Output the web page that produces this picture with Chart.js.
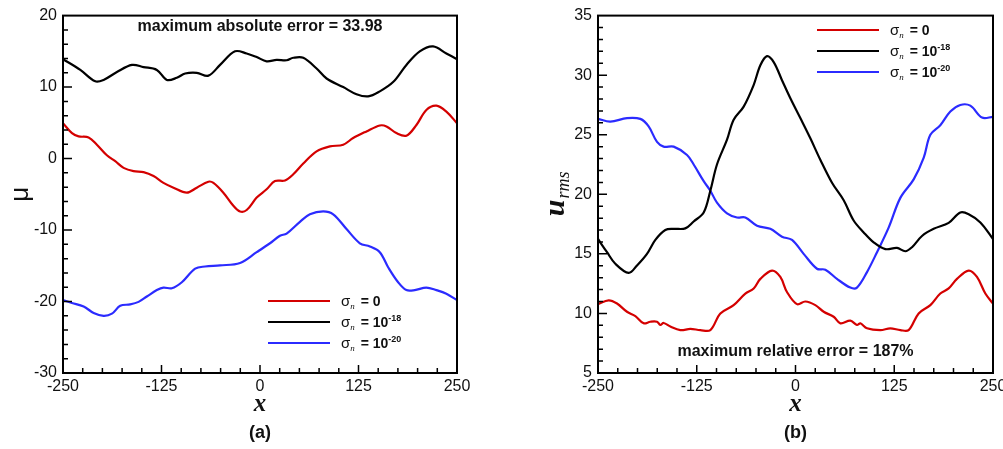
<!DOCTYPE html>
<html>
<head>
<meta charset="utf-8">
<script src="https://cdn.jsdelivr.net/npm/chart.js@4"></script>
<style>
  html, body { margin: 0; padding: 0; background: #fff; overflow: hidden; width: 1003px; height: 449px; }
  canvas { position: absolute; top: 0; }
  #mu-chart  { left: 0; }
  #rms-chart { left: 500px; }
</style>
</head>
<body>
<canvas id="mu-chart" width="500" height="449"></canvas>
<canvas id="rms-chart" width="520" height="449"></canvas>
<script>
// ───────────────────────── DATA ─────────────────────────
const xTicks = [-250, -125, 0, 125, 250];
const muTicks = [-30, -20, -10, 0, 10, 20];
const rmsTicks = [5, 10, 15, 20, 25, 30, 35];

const seriesColors = ["#d40000", "#000000", "#2b2bff"];
const legendBase   = ["0", "10", "10"];
const legendExp    = ["", "-18", "-20"];

// (a) mean μ
const muRedX = [-250, -238.6, -230.2, -217.5, -207, -194.3, -183.7, -173.1, -160.5, -147.8, -135.1, -122.5, -109.8, -92.9, -80.2, -65.5, -59.1, -46.5, -33.8, -25.3, -16.9, -4.2, 8.4, 19, 31.7, 42.2, 54.9, 71.8, 88.7, 105.6, 118.2, 135.1, 152, 160.5, 173.1, 185.8, 198.5, 211.1, 223.8, 236.5, 250];
const muRedY = [4.95, 3.56, 3.1, 2.96, 1.94, 0.46, -0.37, -1.3, -1.76, -1.9, -2.45, -3.4, -4.07, -4.77, -4.07, -3.24, -3.4, -4.77, -6.6, -7.4, -7.2, -5.46, -4.3, -3.15, -3.06, -2.2, -0.7, 1.0, 1.7, 1.94, 2.87, 3.8, 4.63, 4.5, 3.56, 3.2, 4.7, 6.8, 7.4, 6.57, 4.95];

const muBlackX = [-250, -228, -209, -198.5, -181.6, -162.6, -147.8, -130.9, -118.2, -105.6, -95, -80.2, -65.5, -50.7, -31.7, -16.9, -4.2, 8.4, 21.1, 33.8, 42.2, 54.9, 71.8, 84.5, 105.6, 122.5, 137.2, 152, 168.9, 185.8, 202.7, 219.6, 236.5, 250];
const muBlackY = [13.9, 12.4, 10.8, 11.0, 12.1, 13.1, 12.8, 12.4, 11.0, 11.3, 11.9, 12.0, 11.6, 13.1, 15.0, 14.7, 14.2, 13.6, 13.8, 13.75, 14.1, 14.1, 12.6, 11.2, 10.0, 9.0, 8.7, 9.4, 10.7, 13.1, 15.0, 15.7, 14.7, 13.9];

const muBlueX = [-250, -238.6, -223.8, -211.1, -198.5, -187.9, -177.4, -164.7, -154.1, -143.6, -130.9, -122.5, -111.9, -99.2, -82.3, -69.7, -50.7, -25.3, -4.2, 12.7, 25.3, 33.8, 50.7, 63.3, 80.2, 92.9, 109.8, 126.7, 139.4, 152, 162.6, 175.3, 185.8, 196.4, 211.1, 223.8, 236.5, 250];
const muBlueY = [-19.8, -20.2, -20.7, -21.6, -22.0, -21.7, -20.6, -20.4, -20.05, -19.3, -18.4, -18.05, -18.15, -17.3, -15.4, -15.1, -14.95, -14.6, -13.1, -11.85, -10.8, -10.5, -8.85, -7.8, -7.4, -7.8, -9.86, -11.85, -12.3, -13.1, -15.2, -17.3, -18.4, -18.4, -18.05, -18.4, -18.9, -19.8];

// (b) rms u
const rmsRedX = [-250, -236.5, -225.9, -213.3, -202.7, -192.2, -183.8, -175.3, -171.1, -166.9, -158.4, -145.8, -133.1, -120.5, -107.8, -95.1, -78.3, -63.5, -52.9, -44.5, -29.7, -19.2, -10.8, 1.9, 12.4, 25.1, 35.7, 48.3, 56.8, 69.4, 77.8, 82.1, 90.5, 107.4, 120, 132.7, 143.2, 155.9, 170.7, 183.3, 193.9, 204.4, 219.2, 229.7, 240.3, 250];
const rmsRedY = [10.78, 11.1, 10.83, 10.14, 9.78, 9.17, 9.3, 9.3, 9.03, 9.2, 8.9, 8.6, 8.7, 8.6, 8.6, 10.0, 10.7, 11.67, 12.1, 12.9, 13.6, 13.06, 11.8, 10.78, 11.0, 10.7, 10.14, 9.72, 9.17, 9.39, 9.03, 9.17, 8.75, 8.6, 8.75, 8.6, 8.6, 10.0, 10.7, 11.67, 12.1, 12.9, 13.6, 13.06, 11.67, 10.83];

const rmsBlackX = [-250, -238.6, -228.1, -211.2, -200.6, -188, -177.4, -164.8, -154.2, -139.5, -128.9, -116.2, -107.8, -99.4, -86.7, -78.3, -65.6, -53, -44.5, -36.1, -27.6, -17.1, -6.5, 6.1, 18.8, 31.4, 46.2, 61, 73.6, 86.3, 98.9, 113.7, 128.5, 139, 147.5, 160.1, 174.9, 193.9, 208.6, 219.2, 234, 250];
const rmsBlackY = [16.25, 15.14, 14.17, 13.4, 14.03, 15.0, 16.17, 17.0, 17.1, 17.14, 17.72, 18.47, 20.3, 22.5, 24.58, 26.25, 27.36, 29.17, 30.83, 31.6, 31.1, 29.58, 28.06, 26.4, 24.7, 22.9, 20.97, 19.5, 17.8, 16.8, 15.97, 15.4, 15.5, 15.22, 15.56, 16.5, 17.1, 17.6, 18.47, 18.33, 17.64, 16.25];

const rmsBlueX = [-250, -234.4, -213.3, -196.4, -185.9, -175.3, -166.9, -154.2, -137.3, -128.9, -116.2, -107.8, -99.4, -86.7, -74.05, -63.5, -48.7, -31.9, -17.1, -4.4, 10.3, 27.2, 37.8, 52.5, 69.4, 77.8, 90.5, 103.2, 117.9, 132.7, 149.6, 162.2, 170.7, 183.3, 196, 208.6, 221.3, 236.1, 250];
const rmsBlueY = [26.33, 26.1, 26.4, 26.33, 25.7, 24.4, 24.0, 24.0, 23.3, 22.5, 21.1, 20.3, 19.3, 18.4, 18.05, 18.05, 17.36, 17.1, 16.44, 16.17, 15.0, 13.75, 13.67, 12.9, 12.17, 12.17, 13.47, 15.14, 17.2, 19.7, 21.25, 23.05, 25.0, 25.8, 26.95, 27.5, 27.44, 26.44, 26.5];

// ───────────────────────── HELPERS ─────────────────────────
const pts = (xs, ys) => xs.map((x, i) => ({ x, y: ys[i] }));

function makeDatasets(groups) {
    return groups.map((g, i) => ({
        label:       "σn = " + legendBase[i] + (legendExp[i] ? "^" + legendExp[i] : ""),
        data:        pts(g[0], g[1]),
        borderColor: seriesColors[i],
        borderWidth: 2.2,
        pointRadius: 0,
        tension:     0.35,
        fill:        false,
    }));
}

Chart.defaults.font.family = "'Liberation Sans', Arial, sans-serif";
Chart.defaults.color = "#111";

// ───────────────────────── DECORATION PLUGIN (frame, inner ticks, titles, legend) ─────────────────────────
const decor = {
    id: "decor",
    afterDatasetsDraw(chart, args, o) {
        const { ctx, chartArea: a, scales: { x, y } } = chart;
        ctx.save();

        // frame
        ctx.strokeStyle = "#000";
        ctx.lineWidth   = 2;
        ctx.strokeRect(a.left, a.top, a.right - a.left, a.bottom - a.top);

        // inner ticks, bottom + left only
        ctx.lineWidth = 1.5;
        ctx.beginPath();
        for (let v = x.min + o.xMinor; v < x.max - 1e-6; v += o.xMinor) {
            const px  = x.getPixelForValue(v);
            const len = Math.abs((v - x.min) % o.xMajor) < 1e-6 ? 8 : 5;
            ctx.moveTo(px, a.bottom);
            ctx.lineTo(px, a.bottom - len);
        }
        for (let v = y.min + o.yMinor; v < y.max - 1e-6; v += o.yMinor) {
            const py  = y.getPixelForValue(v);
            const len = Math.abs((v - y.min) % o.yMajor) < 1e-6 ? 9 : 5;
            ctx.moveTo(a.left, py);
            ctx.lineTo(a.left + len, py);
        }
        ctx.stroke();

        const cx = (a.left + a.right) / 2;

        // note text
        ctx.fillStyle    = "#111";
        ctx.textAlign    = "center";
        ctx.textBaseline = "middle";
        ctx.font = "bold 16px 'Liberation Sans'";
        ctx.fillText(o.note, cx, o.noteY);

        // x title and caption
        ctx.font = "bold italic 25px 'Liberation Serif'";
        ctx.fillText("x", cx, 405);
        ctx.font = "bold 18px 'Liberation Sans'";
        ctx.fillText(o.caption, cx, 433);

        // y title (rotated)
        ctx.save();
        ctx.translate(o.yTitleX, (a.top + a.bottom) / 2);
        ctx.rotate(-Math.PI / 2);
        ctx.textAlign    = "left";
        ctx.textBaseline = "alphabetic";
        if (o.yTitle === "mu") {
            ctx.font = "26px 'Liberation Sans'";
            const w = ctx.measureText("μ").width;
            ctx.fillText("μ", -w / 2, 6);
        } else {
            ctx.font = "bold italic 30px 'Liberation Serif'";
            const wu = ctx.measureText("u").width;
            ctx.font = "italic 18px 'Liberation Serif'";
            const ws = ctx.measureText("rms").width;
            const x0 = -(wu + ws) / 2;
            ctx.font = "bold italic 30px 'Liberation Serif'";
            ctx.fillText("u", x0, 8);
            ctx.font = "italic 18px 'Liberation Serif'";
            ctx.fillText("rms", x0 + wu + 1, 13);
        }
        ctx.restore();

        // legend
        ctx.textAlign    = "left";
        ctx.textBaseline = "alphabetic";
        chart.data.datasets.forEach((ds, i) => {
            const ly = o.legendY + i * 21;
            ctx.strokeStyle = ds.borderColor;
            ctx.lineWidth   = 2;
            ctx.beginPath();
            ctx.moveTo(o.legendX, ly);
            ctx.lineTo(o.legendX + 62, ly);
            ctx.stroke();

            let tx = o.legendX + 73;
            const base = ly + 5;
            ctx.fillStyle = "#111";
            ctx.font = "15px 'Liberation Sans'";
            ctx.fillText("σ", tx, base);
            tx += ctx.measureText("σ").width;
            ctx.font = "italic 9px 'Liberation Serif'";
            ctx.fillText("n", tx, base + 3);
            tx += ctx.measureText("n").width + 2;
            ctx.font = "bold 14px 'Liberation Sans'";
            const s = " = " + legendBase[i];
            ctx.fillText(s, tx, base);
            tx += ctx.measureText(s).width;
            if (legendExp[i]) {
                ctx.font = "bold 9px 'Liberation Sans'";
                ctx.fillText(legendExp[i], tx, base - 6);
            }
        });

        ctx.restore();
    }
};

// ───────────────────────── CHART FACTORY ─────────────────────────
function makeChart(id, datasets, yMin, yMax, yTicks, yStep, padRight, yWidth, opts) {
    return new Chart(document.getElementById(id), {
        type: "line",
        data: { datasets },
        plugins: [decor],
        options: {
            responsive: false,
            animation:  false,
            layout: { padding: { top: 13, right: padRight, left: 0, bottom: 0 } },
            scales: {
                x: {
                    type: "linear",
                    min: xTicks[0],
                    max: xTicks[xTicks.length - 1],
                    afterBuildTicks: s => { s.ticks = xTicks.map(v => ({ value: v })); },
                    afterFit: s => { s.height = 76; },
                    grid:   { display: false, drawTicks: false },
                    border: { display: false },
                    ticks:  { padding: 4, maxRotation: 0, color: "#111", font: { size: 16 } },
                },
                y: {
                    min: yMin,
                    max: yMax,
                    afterBuildTicks: s => { s.ticks = yTicks.map(v => ({ value: v })); },
                    afterFit: s => { s.width = yWidth; },
                    grid:   { display: false, drawTicks: false },
                    border: { display: false },
                    ticks:  { padding: 6, color: "#111", font: { size: 16 } },
                },
            },
            plugins: {
                legend:  { display: false },
                tooltip: { enabled: false },
                decor:   Object.assign({ xMinor: 25, xMajor: 125, yMajor: yStep }, opts),
            },
        },
    });
}

makeChart("mu-chart",
    makeDatasets([[muRedX, muRedY], [muBlackX, muBlackY], [muBlueX, muBlueY]]),
    -30, 20, muTicks, 10, 43, 63,
    { yMinor: 2, note: "maximum absolute error = 33.98", noteY: 27, caption: "(a)",
      yTitle: "mu", yTitleX: 22, legendX: 268, legendY: 301 });

makeChart("rms-chart",
    makeDatasets([[rmsRedX, rmsRedY], [rmsBlackX, rmsBlackY], [rmsBlueX, rmsBlueY]]),
    5, 35, rmsTicks, 5, 27, 98,
    { yMinor: 1, note: "maximum relative error = 187%", noteY: 352, caption: "(b)",
      yTitle: "urms", yTitleX: 56, legendX: 317, legendY: 30 });
</script>
</body>
</html>
